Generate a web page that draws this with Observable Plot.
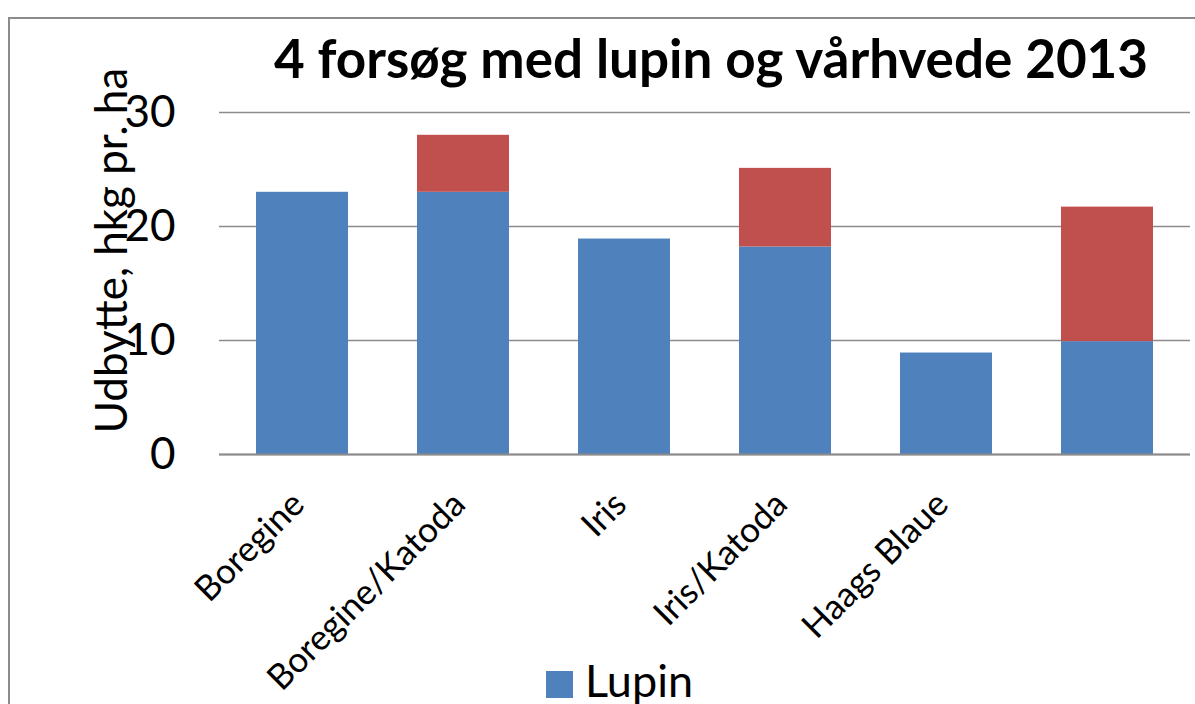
<!DOCTYPE html>
<html>
<head>
<meta charset="utf-8">
<script src="https://cdn.jsdelivr.net/npm/d3@7"></script>
<script src="https://cdn.jsdelivr.net/npm/@observablehq/plot@0.6"></script>
<style>
  html, body { margin: 0; padding: 0; background: #fff; }
  #wrap { position: relative; width: 1195px; height: 704px; overflow: hidden; font-family: Lato, "Open Sans", sans-serif; }
  #frame { position: absolute; left: 8px; top: 17px; width: 1200px; height: 800px; border-left: 2px solid #8c8c8c; border-top: 2px solid #8c8c8c; box-sizing: border-box; }
  #title { position: absolute; left: 0; width: 1422px; top: 26px; text-align: center; font-weight: 700; font-size: 53px; line-height: 1.2; color: #000; white-space: nowrap; }
  #legend-sw { position: absolute; left: 546px; top: 671px; width: 27px; height: 27px; background: #4f81bd; }
  #legend-tx { position: absolute; left: 585px; top: 653px; font-size: 45px; line-height: 1.2; color: #000; white-space: nowrap; }
  #chart { position: absolute; left: 0; top: 0; }
</style>
</head>
<body>
<div id="wrap">
  <div id="frame"></div>
  <div id="chart"></div>
  <div id="title">4 forsøg med lupin og vårhvede 2013</div>
  <div id="legend-sw"></div><div id="legend-tx">Lupin</div>
</div>
<script>
const categories = ["Boregine", "Boregine/Katoda", "Iris", "Iris/Katoda", "Haags Blaue", "Haags Blaue/Katoda"];
const tickLabels = ["Boregine", "Boregine/Katoda", "Iris", "Iris/Katoda", "Haags Blaue", ""];
const lupin = [23.0, 23.0, 18.9, 18.2, 8.9, 9.9];
const hvede = [0, 5.0, 0, 6.9, 0, 11.8];
const seriesNames = ["Lupin", "Vårhvede"];
const seriesColors = ["#4f81bd", "#c0504d"];
const yTicks = [0, 10, 20, 30];
const yLabel = "Udbytte, hkg pr. ha";

const rows = [];
categories.forEach((c, i) => {
  rows.push({cat: c, series: seriesNames[0], value: lupin[i]});
  rows.push({cat: c, series: seriesNames[1], value: hvede[i]});
});
const labelOf = new Map(categories.map((c, i) => [c, tickLabels[i]]));

const chart = Plot.plot({
  width: 1195,
  height: 704,
  marginLeft: 219,
  marginRight: 5,
  marginTop: 112,
  marginBottom: 250,
  style: {fontFamily: "Lato, 'Open Sans', sans-serif", background: "transparent", overflow: "visible"},
  x: {domain: categories, paddingInner: 0.43, paddingOuter: 0.215, label: null},
  y: {domain: [0, 30], label: null},
  color: {domain: seriesNames, range: seriesColors},
  marks: [
    Plot.gridY(yTicks, {stroke: "#8c8c8c", strokeOpacity: 1, strokeWidth: 1.5}),
    Plot.barY(rows, Plot.stackY({x: "cat", y: "value", fill: "series", order: seriesNames})),
    Plot.ruleY([0], {stroke: "#8c8c8c", strokeWidth: 2}),
    Plot.axisY(yTicks, {tickSize: 0, tickPadding: 44, fontSize: 44, label: null}),
    Plot.axisX({tickSize: 0, tickRotate: -45, tickPadding: 44, dx: -4, fontSize: 35, label: null, tickFormat: d => labelOf.get(d)}),
    Plot.text([yLabel], {frameAnchor: "left", textAnchor: "middle", dx: -107, dy: -33, rotate: -90, fontSize: 44, fill: "#000"})
  ]
});
document.getElementById("chart").appendChild(chart);
</script>
</body>
</html>
